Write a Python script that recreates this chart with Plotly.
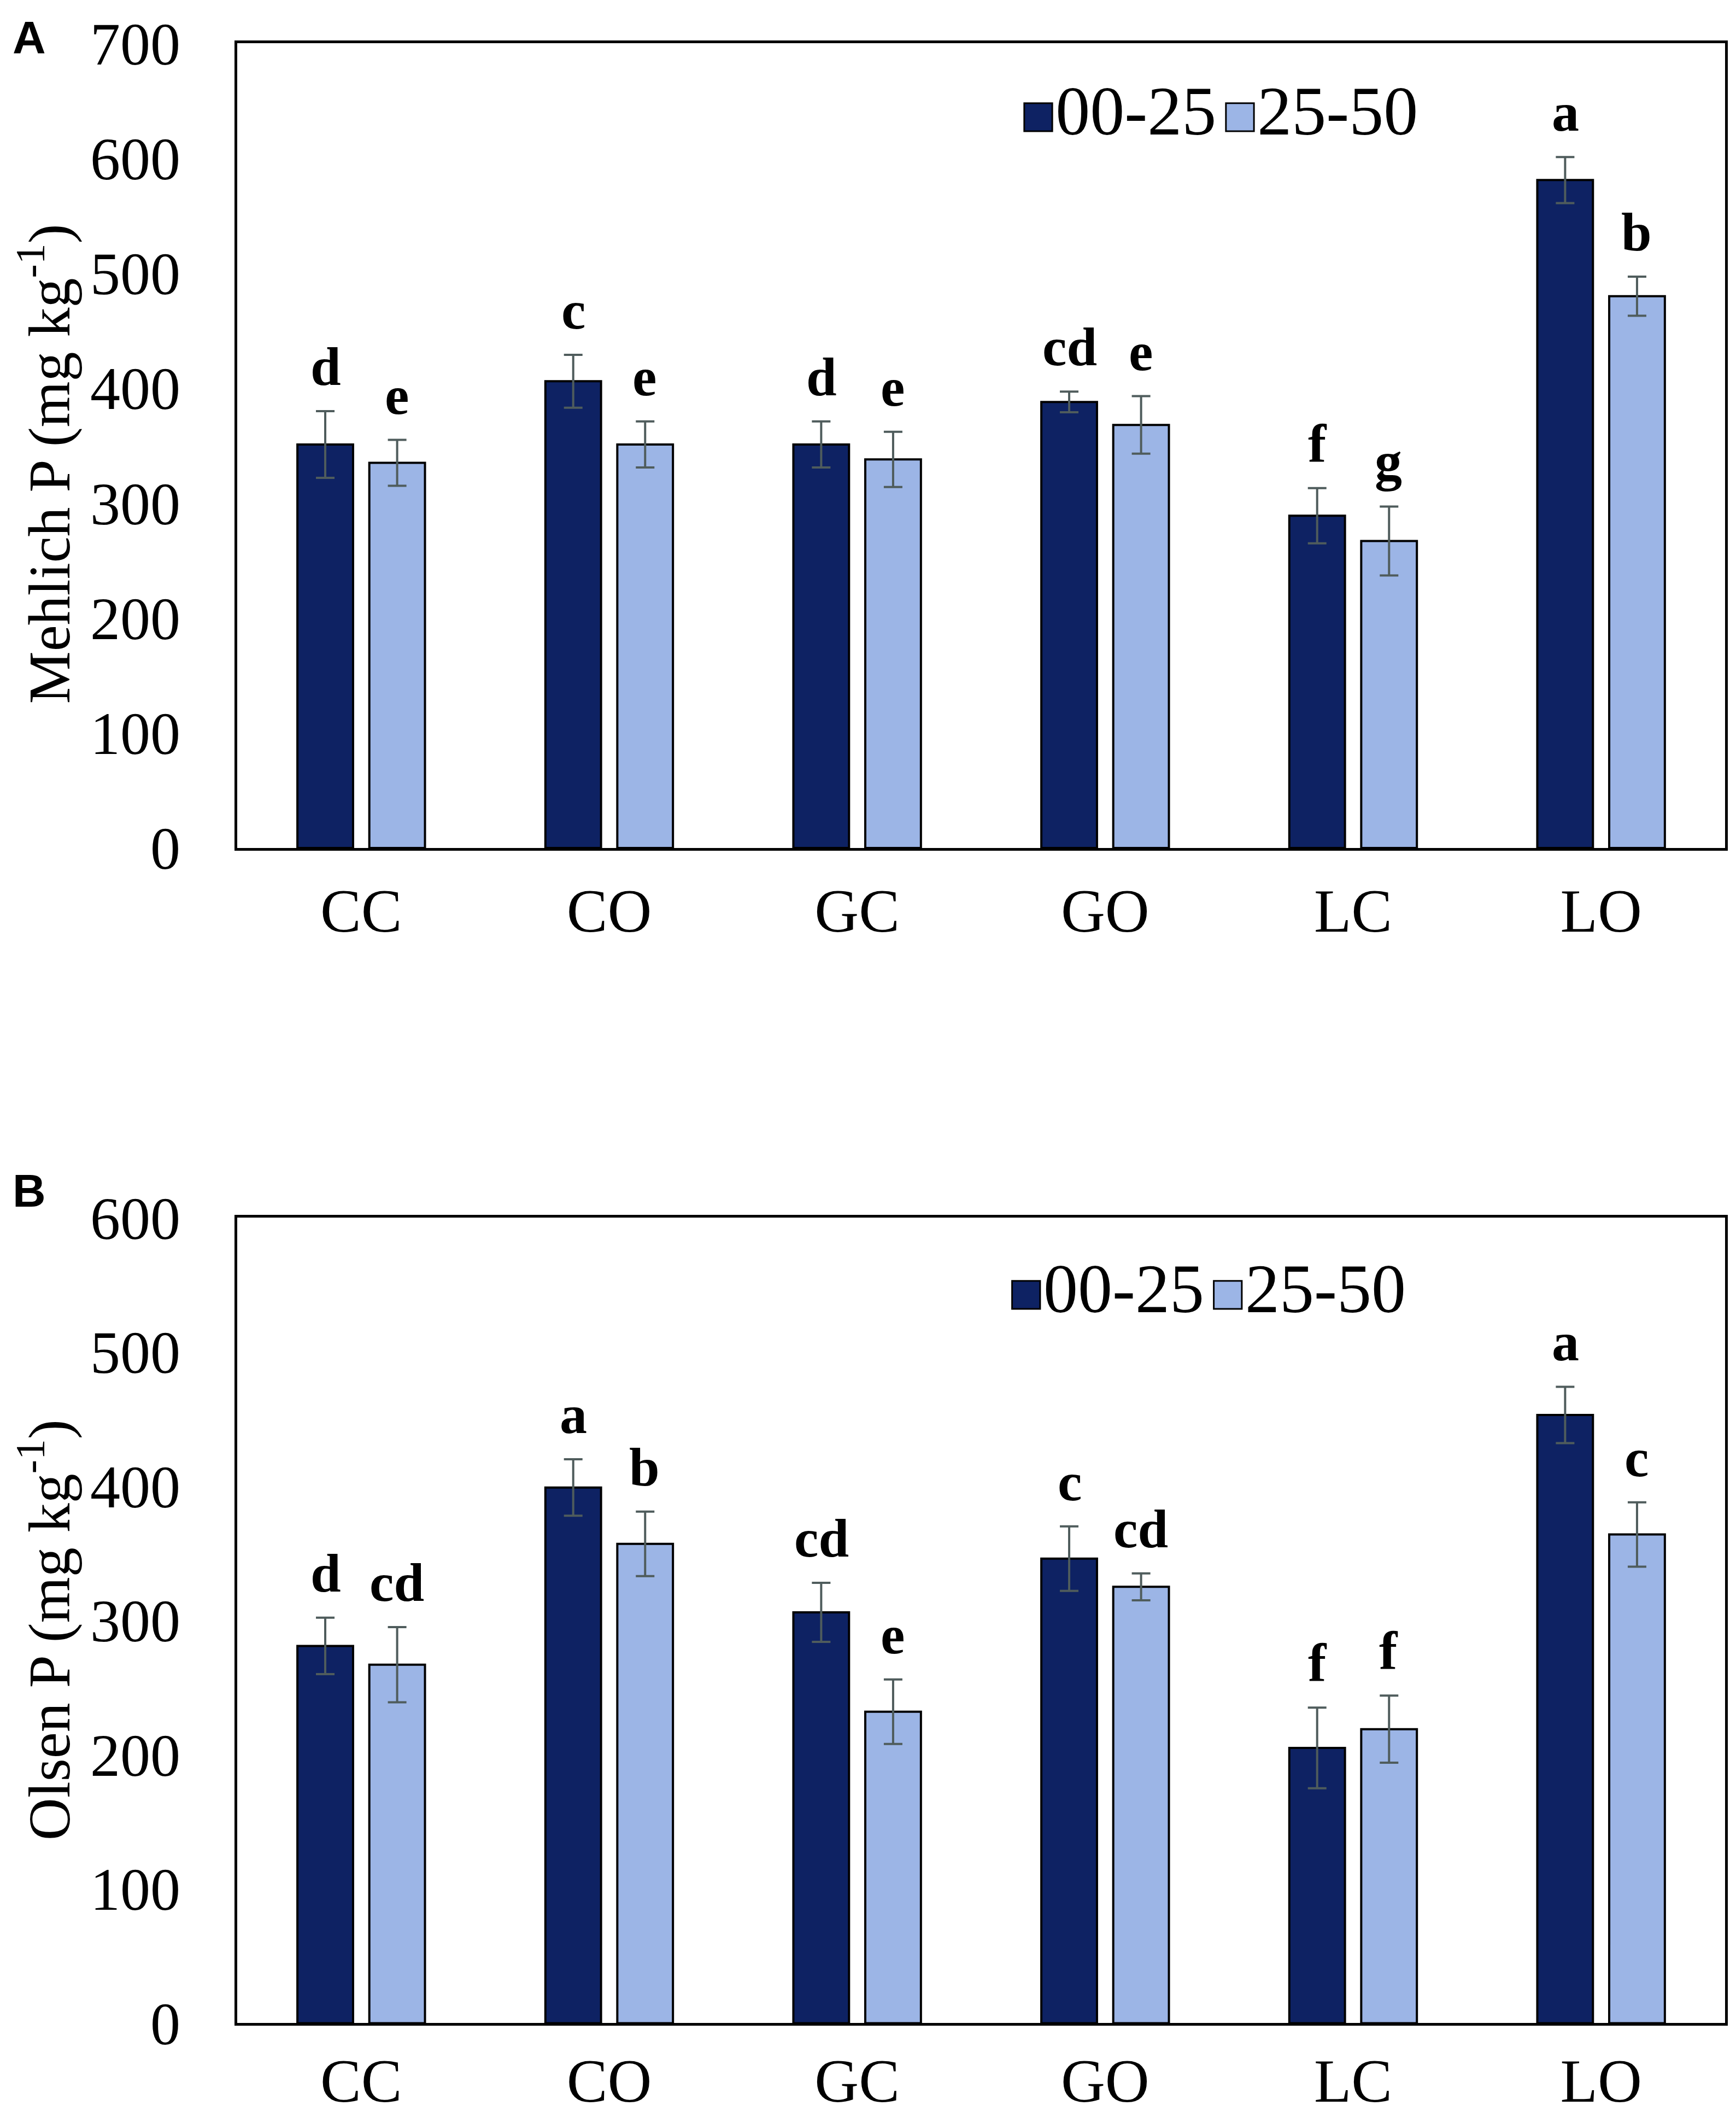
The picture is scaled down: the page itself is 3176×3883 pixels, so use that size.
import plotly.graph_objects as go

W, H = 3160, 3866

sites = ["CC", "CO", "GC", "GO", "LC", "LO"]
depths = ["00-25", "25-50"]

mehlich_top = [351, 406, 351, 388, 289, 581]
mehlich_top_err = [29, 23, 20, 9, 24, 20]
mehlich_sub = [335, 351, 338, 368, 267, 480]
mehlich_sub_err = [20, 20, 24, 25, 30, 17]
mehlich_top_lbl = ["d", "c", "d", "cd", "f", "a"]
mehlich_sub_lbl = ["e", "e", "e", "e", "g", "b"]

olsen_top = [281, 399, 306, 346, 205, 453]
olsen_top_err = [21, 21, 22, 24, 30, 21]
olsen_sub = [267, 357, 232, 325, 219, 364]
olsen_sub_err = [28, 24, 24, 10, 25, 24]
olsen_top_lbl = ["d", "a", "cd", "c", "f", "a"]
olsen_sub_lbl = ["cd", "b", "e", "cd", "f", "c"]

DARK = "#0e2263"
LIGHT = "#9cb5e6"
ERR = "#4f5c5c"
SERIF = "Liberation Serif"
HIDDEN = dict(opacity=0, size=1, color="rgba(0,0,0,0)", line=dict(width=0))


def swatch(color, label):
    # legend glyph drawn as a big square so it matches the text size
    return (f"<span style='font-size:106px;color:{color};stroke:black;stroke-width:3px'>■</span>"
            f"{label}")


fig = go.Figure()

panels = [
    ("x", "y", "legend", mehlich_top, mehlich_top_err, mehlich_sub, mehlich_sub_err,
     mehlich_top_lbl, mehlich_sub_lbl),
    ("x2", "y2", "legend2", olsen_top, olsen_top_err, olsen_sub, olsen_sub_err,
     olsen_top_lbl, olsen_sub_lbl),
]

annotations = []
for xa, ya, lg, top, top_e, sub, sub_e, top_l, sub_l in panels:
    for name, vals, errs, color in [(depths[0], top, top_e, DARK), (depths[1], sub, sub_e, LIGHT)]:
        fig.add_trace(go.Bar(
            x=sites, y=vals, name=name, xaxis=xa, yaxis=ya, showlegend=False,
            marker=dict(color=color, line=dict(color="black", width=4)),
            error_y=dict(type="data", array=errs, color=ERR, thickness=4, width=17),
        ))
        # legend-only entry
        fig.add_trace(go.Scatter(
            x=[None], y=[None], mode="markers", name=swatch(color, name),
            xaxis=xa, yaxis=ya, legend=lg, marker=HIDDEN, hoverinfo="skip",
        ))
    # blank entry so the fixed entry width does not clip the last label
    fig.add_trace(go.Scatter(
        x=[None], y=[None], mode="markers", name="\u00a0", xaxis=xa, yaxis=ya,
        legend=lg, marker=HIDDEN, hoverinfo="skip",
    ))
    for lbls, vals, errs, shift in [(top_l, top, top_e, -65), (sub_l, sub, sub_e, 65)]:
        for s, t, v, e in zip(sites, lbls, vals, errs):
            annotations.append(dict(
                x=s, y=v + e, xref=xa, yref=ya, text=t, showarrow=False,
                xshift=shift, yshift=24, yanchor="bottom",
                font=dict(family=SERIF, size=100, color="black", weight="bold"),
            ))

annotations += [
    dict(x=0.004, y=0.997, xref="paper", yref="paper", text="<b>A</b>", showarrow=False,
         xanchor="left", yanchor="top", font=dict(family="Liberation Sans", size=84, color="black")),
    dict(x=0.004, y=0.4515, xref="paper", yref="paper", text="<b>B</b>", showarrow=False,
         xanchor="left", yanchor="top", font=dict(family="Liberation Sans", size=84, color="black")),
    dict(x=0.0235, y=0.7827, xref="paper", yref="paper", text="Mehlich P (mg kg<sup>-1</sup>)",
         showarrow=False, textangle=-90, xanchor="center", yanchor="middle",
         font=dict(family=SERIF, size=108, color="black")),
    dict(x=0.0235, y=0.231, xref="paper", yref="paper", text="Olsen P (mg kg<sup>-1</sup>)",
         showarrow=False, textangle=-90, xanchor="center", yanchor="middle",
         font=dict(family=SERIF, size=108, color="black")),
]

axis_common = dict(showline=True, linecolor="black", linewidth=5, mirror=True,
                   showgrid=False, zeroline=False, ticks="")
y_font = dict(family=SERIF, size=110, color="black")
x_font = dict(family=SERIF, size=112, color="black")

legend_common = dict(orientation="h", xanchor="left", yanchor="middle",
                     font=dict(family=SERIF, size=126, color="black"),
                     bgcolor="rgba(0,0,0,0)", itemwidth=30, entrywidth=324,
                     itemclick=False, itemdoubleclick=False)

fig.update_layout(
    width=W, height=H,
    margin=dict(l=0, r=0, t=0, b=0, autoexpand=False),
    paper_bgcolor="white", plot_bgcolor="white",
    barmode="group", bargap=0.42, bargroupgap=0.226,
    xaxis=dict(domain=[0.1348, 0.9962], anchor="y", ticklabelstandoff=14,
               tickfont=x_font, **axis_common),
    yaxis=dict(domain=[0.6009, 0.9816], anchor="x", range=[0, 700], dtick=100,
               ticklabelstandoff=77, tickfont=y_font, **axis_common),
    xaxis2=dict(domain=[0.1348, 0.9962], anchor="y2", ticklabelstandoff=4,
                tickfont=x_font, **axis_common),
    yaxis2=dict(domain=[0.0449, 0.4260], anchor="x2", range=[0, 600], dtick=100,
                ticklabelstandoff=77, tickfont=y_font, **axis_common),
    legend=dict(x=0.5757, y=0.951, **legend_common),
    legend2=dict(x=0.5687, y=0.394, **legend_common),
    annotations=annotations,
)

fig.write_html("out.html")
